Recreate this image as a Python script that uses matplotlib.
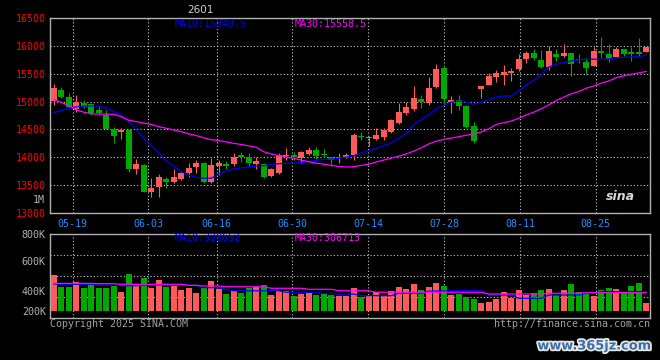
import numpy as np
import matplotlib
matplotlib.use("Agg")
import matplotlib.pyplot as plt
import matplotlib.patheffects as pe

# --- data (contract 2601) ---
opens = [15016, 15208, 15088, 14861, 14969, 14956, 14849, 14759, 14508, 14460,
         14490, 13784, 13862, 13382, 13461, 13610, 13562, 13605, 13724, 13831,
         13903, 13562, 13844, 13874, 13880, 14047, 14005, 13880, 13886, 13664,
         13712, 14023, 14047, 13982, 14059, 14131, 14060, 14000, 13990, 14000,
         14041, 14380, 14340, 14323, 14370, 14460, 14610, 14789, 14861, 15046,
         14969, 15267, 15600, 14992, 15028, 14920, 14561, 15226, 15298, 15446,
         15477, 15518, 15585, 15764, 15872, 15746, 15626, 15854, 15823, 15872,
         15764, 15715, 15644, 15913, 15854, 15795, 15944, 15890, 15890, 15884]
highs = [15315, 15256, 15148, 15118, 15028, 14970, 14908, 14849, 14544, 14531,
         14500, 13969, 13880, 13623, 13695, 13652, 13790, 13735, 13892, 13951,
         13910, 13982, 13951, 13939, 14082, 14095, 14077, 14000, 13897, 13800,
         14077, 14167, 14095, 14113, 14179, 14179, 14149, 14005, 14082, 14077,
         14431, 14449, 14382, 14531, 14520, 14687, 14980, 14987, 15280, 15118,
         15446, 15674, 15644, 15100, 15118, 14930, 14639, 15280, 15507, 15567,
         15656, 15597, 15854, 15913, 15940, 15920, 15992, 15944, 16033, 15880,
         15854, 15777, 15985, 16159, 16028, 15985, 15950, 15980, 16146, 15980]
lows = [14938, 15064, 14885, 14818, 14890, 14759, 14780, 14500, 14262, 14323,
        13736, 13700, 13370, 13292, 13281, 13443, 13533, 13590, 13652, 13724,
        13540, 13540, 13682, 13790, 13849, 13921, 13849, 13790, 13630, 13652,
        13700, 13951, 13951, 13900, 14035, 13964, 14011, 13844, 13892, 13990,
        13951, 14310, 14203, 14310, 14310, 14442, 14597, 14759, 14836, 14879,
        14938, 15238, 14938, 14800, 14849, 14520, 14262, 15059, 15298, 15357,
        15298, 15375, 15549, 15692, 15750, 15597, 15567, 15728, 15805, 15464,
        15687, 15490, 15644, 15787, 15705, 15795, 15823, 15728, 15823, 15884]
closes = [15238, 15088, 14897, 15000, 14897, 14789, 14789, 14508, 14382, 14490,
          13784, 13880, 13382, 13449, 13641, 13551, 13652, 13724, 13813, 13892,
          13551, 13862, 13897, 13849, 14000, 14011, 13903, 13930, 13652, 13784,
          14041, 14047, 14000, 14095, 14131, 14023, 14050, 13951, 14005, 14047,
          14400, 14360, 14370, 14400, 14490, 14669, 14813, 14897, 15064, 14998,
          15244, 15585, 15046, 15028, 14920, 14549, 14298, 15280, 15464, 15507,
          15536, 15554, 15764, 15872, 15777, 15626, 15908, 15800, 15872, 15669,
          15746, 15608, 15908, 15872, 15764, 15944, 15854, 15860, 15860, 15980]
ma10 = [14800, 14840, 14880, 14905, 14920, 14920, 14920, 14880, 14820, 14760,
        14640, 14500, 14340, 14200, 14080, 13930, 13840, 13740, 13680, 13640,
        13625, 13625, 13700, 13750, 13790, 13810, 13830, 13845, 13850, 13870,
        13885, 13892, 13895, 13905, 13920, 13945, 13960, 13968, 13985, 14005,
        14030, 14075, 14120, 14160, 14210, 14255, 14340, 14430, 14590, 14680,
        14760, 14870, 14930, 14990, 15010, 14990, 14950, 14985, 15040, 15080,
        15100, 15100, 15190, 15300, 15380, 15480, 15620, 15670, 15700, 15730,
        15750, 15760, 15760, 15760, 15765, 15785, 15795, 15800, 15805, 15830]
ma30 = [15040, 14985, 14930, 14850, 14810, 14780, 14775, 14775, 14770, 14730,
        14665, 14640, 14615, 14590, 14550, 14520, 14490, 14460, 14420, 14390,
        14350, 14315, 14300, 14275, 14250, 14230, 14205, 14180, 14100, 14060,
        14030, 14005, 13980, 13950, 13920, 13895, 13875, 13855, 13835, 13825,
        13830, 13855, 13875, 13915, 13950, 13985, 14020, 14060, 14110, 14170,
        14240, 14290, 14320, 14345, 14370, 14395, 14420, 14455, 14510, 14590,
        14620, 14650, 14700, 14760, 14810, 14870, 14940, 15020, 15080, 15140,
        15180, 15240, 15280, 15330, 15370, 15430, 15460, 15490, 15515, 15540]

volume = [443700, 364600, 364600, 396000, 357900, 387500, 357900, 357900, 371300, 330700,
          450500, 380800, 425600, 357900, 409900, 364600, 371300, 342200, 357900, 321900,
          357900, 403100, 346900, 315100, 337400, 323900, 353700, 364600, 376000, 308300,
          337400, 337400, 301500, 315100, 319800, 308300, 315100, 310500, 303600, 303600,
          353700, 296800, 306100, 326600, 306100, 337400, 362500, 351000, 382800, 342200,
          360400, 389600, 369300, 308300, 313100, 296800, 281200, 254200, 260900, 281200,
          328600, 288000, 342200, 308300, 323900, 342200, 348900, 308300, 342200, 382800,
          326600, 313100, 301500, 342200, 355700, 348900, 326600, 369300, 389600, 254200]
vol_ma10 = [383, 381, 381, 381, 381, 381, 376, 376, 376, 371,
            371, 371, 376, 376, 376, 376, 376, 376, 374, 374,
            358, 358, 358, 347, 337, 337, 337, 337, 337, 337,
            337, 327, 327, 327, 327, 327, 320, 320, 313, 313,
            315, 304, 304, 304, 304, 304, 320, 320, 320, 320,
            335, 335, 335, 337, 337, 337, 337, 337, 308, 308,
            308, 308, 286, 286, 286, 286, 308, 308, 308, 308,
            308, 320, 320, 331, 331, 331, 331, 331, 331, 331]
vol_ma30 = [387, 387, 387, 387, 387, 387, 385, 385, 385, 381,
            381, 381, 381, 381, 381, 381, 381, 381, 374, 374,
            369, 369, 369, 364, 364, 364, 364, 364, 364, 354,
            354, 354, 354, 354, 347, 347, 347, 347, 337, 337,
            337, 337, 337, 327, 327, 327, 327, 327, 327, 327,
            327, 327, 327, 327, 327, 327, 327, 327, 315, 315,
            315, 315, 315, 315, 315, 315, 320, 320, 320, 320,
            320, 324, 324, 324, 324, 324, 324, 324, 324, 324]

date_labels = ["05-19", "06-03", "06-16", "06-30", "07-14", "07-28", "08-11", "08-25"]
date_index = [3, 13, 22, 32, 42, 52, 62, 72]
price_ticks = [13000, 13500, 14000, 14500, 15000, 15500, 16000, 16500]
vol_labels = ["200K", "400K", "600K", "800K"]

RED = "#ff5a5a"
GREEN = "#00a800"
GRID = "#c8c8c8"
MONO = "DejaVu Sans Mono"
FS = 7.2

o = np.array(opens, float)
c = np.array(closes, float)
x = np.arange(len(o))
up = c >= o
colors = np.where(up, RED, GREEN)

fig = plt.figure(figsize=(6.6, 3.6), dpi=100, facecolor="black")
ax = fig.add_axes([50 / 660, 147 / 360, 600 / 660, 195 / 360], facecolor="black")
axv = fig.add_axes([50 / 660, 42 / 360, 600 / 660, 84 / 360], facecolor="black")

# sina's date grid drifts a little against the candles
tick_x = np.array(date_index) * 1.011 - 0.53

for a in (ax, axv):
    a.set_xlim(-0.5, len(o) - 0.5)
    for s in a.spines.values():
        s.set_color("#b0b0b0")
        s.set_linewidth(1)
    a.set_xticks(tick_x)
    a.tick_params(length=0)
    a.grid(True, axis="x", color=GRID, linestyle=(0, (1, 2)), linewidth=0.8)

# --- candles ---
body_lo = np.minimum(o, c)
body_h = np.maximum(np.abs(c - o), 14)
ax.vlines(x, lows, highs, colors=colors, linewidth=0.8, zorder=3)
ax.bar(x, body_h, bottom=body_lo, width=0.8, color=colors, linewidth=0, zorder=4)
ax.plot(x, ma10, color="#0000ff", linewidth=0.9, zorder=5)
ax.plot(x, ma30, color="#ff00ff", linewidth=0.9, zorder=5)

ax.set_ylim(13000, 16500)
ax.set_yticks(price_ticks)
ax.set_yticklabels([str(t) for t in price_ticks])
ax.grid(True, axis="y", color=GRID, linestyle=(0, (1, 2)), linewidth=0.8)
ax.set_axisbelow(True)
ax.tick_params(axis="y", colors="#ff0000", labelsize=FS, pad=3)
ax.tick_params(axis="x", colors="#1e90ff", labelsize=FS, pad=4)
ax.set_xticklabels(date_labels)
for lab in ax.get_xticklabels() + ax.get_yticklabels():
    lab.set_family(MONO)

ax.text(-0.008, 13 / 195, "1M", transform=ax.transAxes, ha="right", va="center",
        color="#b0b0b0", fontsize=FS, family=MONO)
ax.text(125 / 600, 0.97, "MA10:15340.5", transform=ax.transAxes, ha="left", va="center",
        color="#0000ff", fontsize=FS, family=MONO)
ax.text(245 / 600, 0.97, "MA30:15558.5", transform=ax.transAxes, ha="left", va="center",
        color="#ff00ff", fontsize=FS, family=MONO)
ax.text(0.975, 0.085, "sina", transform=ax.transAxes, ha="right", va="center",
        color="#d8d8d8", fontsize=9, fontweight="bold", style="italic", zorder=6)

# --- volume ---
v = np.array(volume, float)
vbase = 200000
vlo, vhi = vbase - 7 * 6770, vbase + 77 * 6770
axv.bar(x, v - vbase, bottom=vbase, width=0.8, color=colors, linewidth=0, zorder=3)
axv.plot(x, np.array(vol_ma10) * 1000, color="#0000ff", linewidth=0.9, zorder=4)
axv.plot(x, np.array(vol_ma30) * 1000, color="#ff00ff", linewidth=0.9, zorder=4)
axv.set_ylim(vlo, vhi)
for f in (0.25, 0.5, 0.75):
    axv.axhline(vlo + f * (vhi - vlo), color=GRID, linestyle=(0, (1, 2)), linewidth=0.8, zorder=1)
# sina prints its volume labels off the grid
lab_frac = [7 / 84, 27 / 84, 57 / 84, 1.0]
axv.set_yticks([vlo + f * (vhi - vlo) for f in lab_frac])
axv.set_yticklabels(vol_labels)
axv.tick_params(axis="y", colors="#b0b0b0", labelsize=FS, pad=3)
axv.set_xticklabels([])
for lab in axv.get_yticklabels():
    lab.set_family(MONO)
axv.text(125 / 600, 0.95, "MA10:328652", transform=axv.transAxes, ha="left", va="center",
         color="#0000ff", fontsize=FS, family=MONO)
axv.text(245 / 600, 0.95, "MA30:306713", transform=axv.transAxes, ha="left", va="center",
         color="#ff00ff", fontsize=FS, family=MONO)

fig.text(200 / 660, 1 - 10 / 360, "2601", ha="center", va="center", color="#d0d0d0",
         fontsize=7.5, family="DejaVu Sans")
fig.text(50 / 660, 1 - 324 / 360, "Copyright 2025 SINA.COM", ha="left", va="center",
         color="#a0a0a0", fontsize=FS, family=MONO)
fig.text(650 / 660, 1 - 324 / 360, "http://finance.sina.com.cn", ha="right", va="center",
         color="#a0a0a0", fontsize=FS, family=MONO)
fig.text(594 / 660, 1 - 346 / 360, "www.365jz.com", ha="center", va="center",
         color="#3c6ea8", fontsize=9.3, fontweight="bold",
         path_effects=[pe.withStroke(linewidth=2.5, foreground="#e8e8e8")])

fig.savefig("out.png", dpi=100, facecolor="black")
